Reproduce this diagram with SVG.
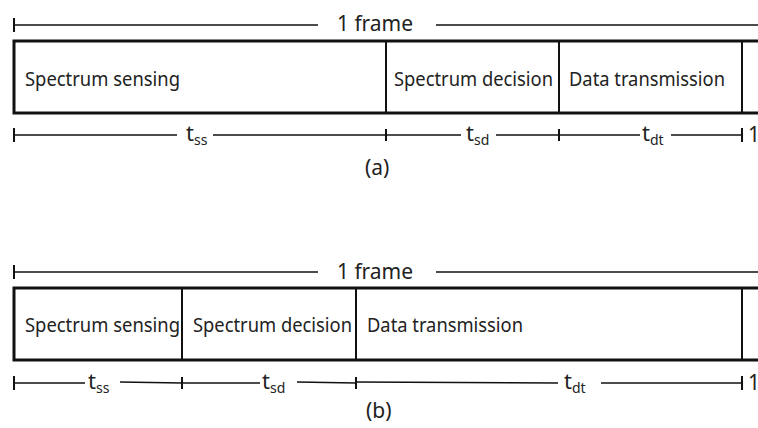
<svg xmlns="http://www.w3.org/2000/svg" width="758" height="428" viewBox="0 0 758 428">
<style>
  .box { fill: #fff; stroke: #111; stroke-width: 3; }
  .div { stroke: #111; stroke-width: 2; }
  .rule { stroke: #111; stroke-width: 1.6; fill: none; }
  .tick { stroke: #111; stroke-width: 2; }
  .lbl { font-family: "Noto Sans", "Liberation Sans", Arial, sans-serif; font-size: 19.5px; fill: #222; }
  .big { font-size: 21px; }
  .t { font-family: "Noto Sans", "Liberation Sans", Arial, sans-serif; font-size: 22px; fill: #222; }
  .sub { font-size: 14px; }
</style>
<rect width="758" height="428" fill="#fff"/>

<!-- Frame (a) -->
<g id="frame-a">
  <rect class="box" x="14" y="41" width="760" height="72"/>
  <g id="a-sensing">
    <text class="lbl" x="25" y="86" textLength="155" lengthAdjust="spacingAndGlyphs">Spectrum sensing</text>
  </g>
  <g id="a-decision">
    <line class="div" x1="386" y1="41" x2="386" y2="113"/>
    <text class="lbl" x="394" y="86" textLength="159" lengthAdjust="spacingAndGlyphs">Spectrum decision</text>
  </g>
  <g id="a-data">
    <line class="div" x1="559" y1="41" x2="559" y2="113"/>
    <text class="lbl" x="569" y="86" textLength="156" lengthAdjust="spacingAndGlyphs">Data transmission</text>
  </g>
  <g id="a-next">
    <line class="div" x1="742" y1="41" x2="742" y2="113"/>
  </g>
  <text class="lbl big" x="365" y="175">(a)</text>
</g>

<!-- Frame (b) -->
<g id="frame-b">
  <rect class="box" x="14" y="288" width="760" height="72"/>
  <g id="b-sensing">
    <text class="lbl" x="25" y="332" textLength="155" lengthAdjust="spacingAndGlyphs">Spectrum sensing</text>
  </g>
  <g id="b-decision">
    <line class="div" x1="182" y1="288" x2="182" y2="360"/>
    <text class="lbl" x="193" y="332" textLength="159" lengthAdjust="spacingAndGlyphs">Spectrum decision</text>
  </g>
  <g id="b-data">
    <line class="div" x1="356" y1="288" x2="356" y2="360"/>
    <text class="lbl" x="367" y="332" textLength="156" lengthAdjust="spacingAndGlyphs">Data transmission</text>
  </g>
  <g id="b-next">
    <line class="div" x1="742" y1="288" x2="742" y2="360"/>
  </g>
  <text class="lbl big" x="366" y="418">(b)</text>
</g>

<!-- Dimension rulers -->
<g id="connectors">
  <!-- (a) top: 1 frame -->
  <line class="tick" x1="14" y1="18" x2="14" y2="32"/>
  <line class="rule" x1="14" y1="25" x2="318" y2="25"/>
  <line class="rule" x1="436" y1="25" x2="758" y2="25"/>
  <text class="lbl big" x="337" y="31" textLength="76">1 frame</text>

  <!-- (a) bottom -->
  <line class="tick" x1="14" y1="128" x2="14" y2="142"/>
  <line class="rule" x1="14" y1="135" x2="177" y2="135"/>
  <text class="t" x="186" y="141">t<tspan class="sub" dy="4">ss</tspan></text>
  <line class="rule" x1="213" y1="135" x2="386" y2="135"/>
  <line class="tick" x1="386" y1="129" x2="386" y2="141"/>
  <line class="rule" x1="386" y1="135" x2="461" y2="135"/>
  <text class="t" x="466" y="141">t<tspan class="sub" dy="4">sd</tspan></text>
  <line class="rule" x1="496" y1="135" x2="559" y2="135"/>
  <line class="tick" x1="559" y1="129" x2="559" y2="141"/>
  <line class="rule" x1="559" y1="135" x2="640" y2="135"/>
  <text class="t" x="642" y="141">t<tspan class="sub" dy="4">dt</tspan></text>
  <line class="rule" x1="671" y1="135" x2="742" y2="135"/>
  <line class="tick" x1="742" y1="128" x2="742" y2="142"/>
  <text class="lbl big" x="748" y="142">1</text>

  <!-- (b) top: 1 frame -->
  <line class="tick" x1="14" y1="265" x2="14" y2="279"/>
  <line class="rule" x1="14" y1="272" x2="318" y2="272"/>
  <line class="rule" x1="436" y1="272" x2="758" y2="272"/>
  <text class="lbl big" x="337" y="279" textLength="76">1 frame</text>

  <!-- (b) bottom -->
  <line class="tick" x1="14" y1="376" x2="14" y2="390"/>
  <line class="rule" x1="14" y1="383" x2="85" y2="383"/>
  <text class="t" x="88" y="389">t<tspan class="sub" dy="4">ss</tspan></text>
  <line class="rule" x1="120" y1="382" x2="182" y2="383"/>
  <line class="tick" x1="182" y1="377" x2="182" y2="389"/>
  <line class="rule" x1="182" y1="383" x2="260" y2="383"/>
  <text class="t" x="262" y="389">t<tspan class="sub" dy="4">sd</tspan></text>
  <line class="rule" x1="297" y1="382" x2="356" y2="383"/>
  <line class="tick" x1="356" y1="377" x2="356" y2="389"/>
  <line class="rule" x1="356" y1="382" x2="558" y2="383"/>
  <text class="t" x="564" y="389">t<tspan class="sub" dy="4">dt</tspan></text>
  <line class="rule" x1="601" y1="383" x2="742" y2="383"/>
  <line class="tick" x1="742" y1="376" x2="742" y2="390"/>
  <text class="lbl big" x="748" y="390">1</text>
</g>
</svg>
